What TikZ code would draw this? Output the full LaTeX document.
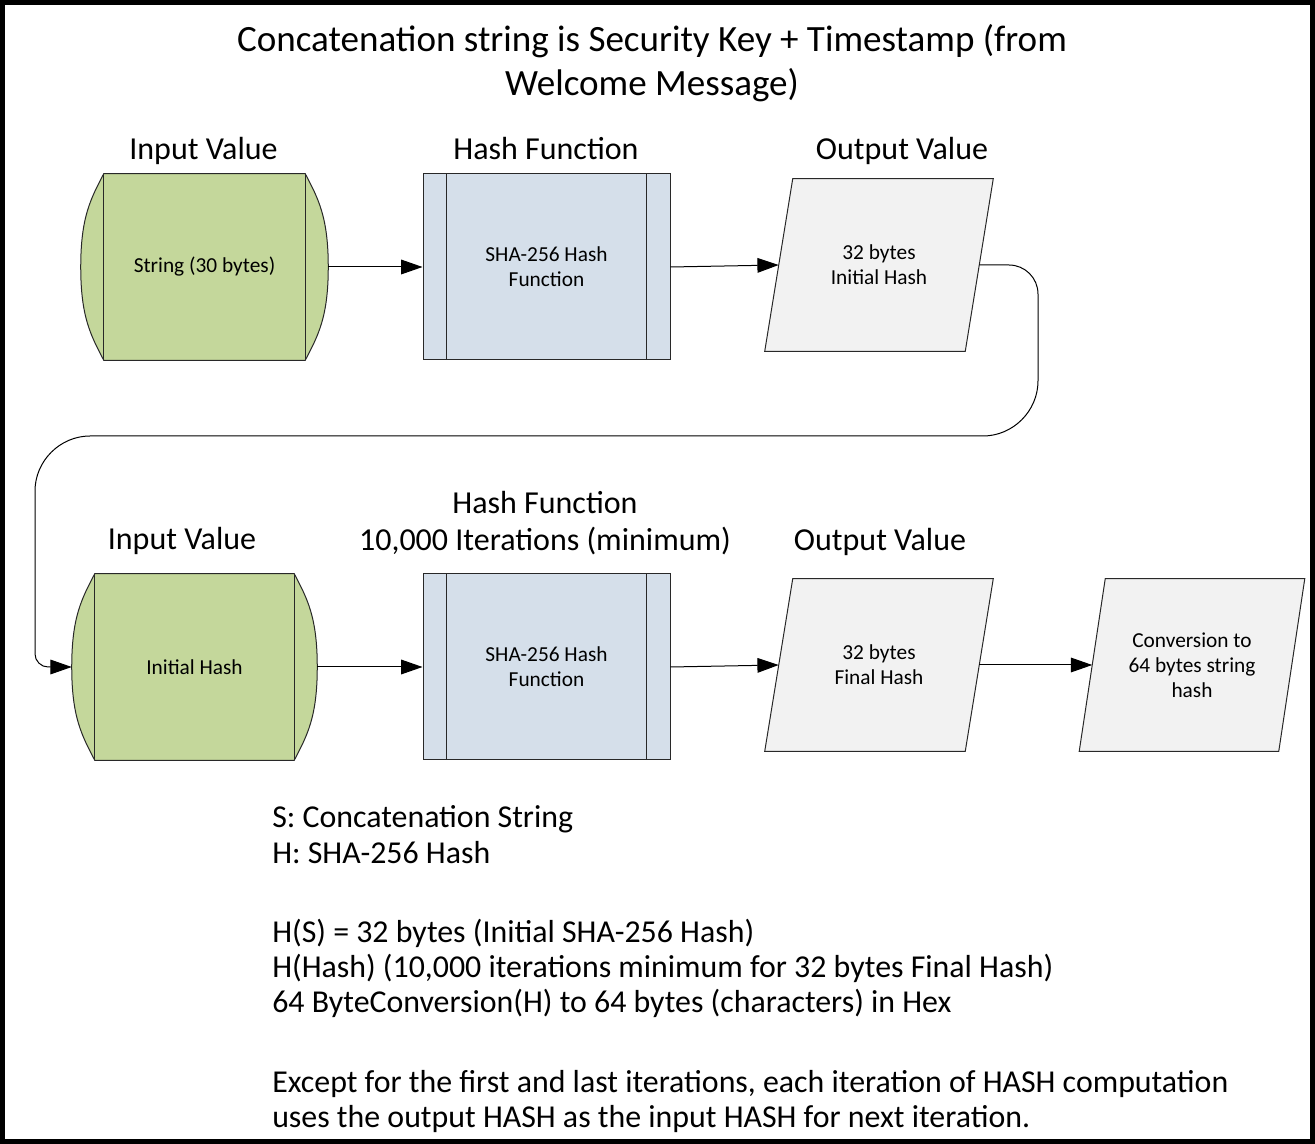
\documentclass[tikz,border=0pt]{standalone}
\usepackage{fontspec}
\setmainfont{Carlito}
\usetikzlibrary{arrows.meta,calc,backgrounds}
\definecolor{ingreen}{RGB}{196,215,155}
\definecolor{hashblue}{RGB}{213,223,234}
\definecolor{outgray}{RGB}{242,242,242}
\definecolor{edgecol}{RGB}{40,40,40}
\begin{document}
\begin{tikzpicture}[x=0.75pt,y=-0.75pt,
  lbl/.style={font=\fontsize{24}{28}\selectfont, inner sep=0pt, anchor=base},
  ttl/.style={font=\fontsize{27.8}{32}\selectfont, inner sep=0pt, anchor=base},
  note/.style={font=\fontsize{23.9}{28}\selectfont, inner sep=0pt, anchor=base west},
  boxtxt/.style={font=\fontsize{16}{18.75}\selectfont, align=center, text=black},
  inshape/.style={minimum width=185.25pt, minimum height=139.5pt, inner sep=0pt, boxtxt},
  hashbox/.style={draw=edgecol, line width=0.75pt, fill=hashblue, minimum width=185.25pt, minimum height=139.5pt, inner sep=0pt, boxtxt},
  outshape/.style={minimum width=150pt, minimum height=129pt, inner sep=0pt, boxtxt},
  shapeline/.style={draw=edgecol, line width=0.75pt},
  conn/.style={draw=black, line width=0.75pt, -{Triangle[length=16pt,width=11pt]}},
  frameline/.style={line width=3.75pt, draw=black}
]
\useasboundingbox (0,0) rectangle (1315,1144);

% title
\node[ttl] (t1) at (652,52) {Concatenation string is Security Key + Timestamp (from};
\node[ttl] (t2) at (652,96) {Welcome Message)};

% top row labels
\node[lbl] (lin1) at (203.5,160) {Input Value};
\node[lbl] (lh1) at (546,160) {Hash Function};
\node[lbl] (lout1) at (902,160) {Output Value};

% bottom row labels
\node[lbl] (lh2a) at (545,514) {Hash Function};
\node[lbl] (lh2b) at (545,551) {10,000 Iterations (minimum)};
\node[lbl] (lin2) at (182,550) {Input Value};
\node[lbl] (lout2) at (880,551) {Output Value};

% top row shapes
\node[inshape] (in1) at (204.5,267) {String (30 bytes)};
\node[hashbox] (h1) at (546.5,267) {SHA-256 Hash\\Function};
\node[outshape] (p1) at (879,265) {32 bytes\\Initial Hash};

% bottom row shapes
\node[inshape, minimum width=183.75pt] (in2) at (194.5,667) {Initial Hash};
\node[hashbox] (h2) at (546.5,667) {SHA-256 Hash\\Function};
\node[outshape] (p2) at (879,665) {32 bytes\\Final Hash};
\node[outshape, minimum width=149.25pt] (p3) at (1192,665) {Conversion to\\64 bytes string\\hash};

\begin{scope}[on background layer]
  % input shapes (flat-topped with bulging sides)
  \foreach \n in {in1,in2}{
    \path[shapeline, fill=ingreen]
      ($(\n.north west)+(23,0)$) -- ($(\n.north east)+(-23,0)$)
      .. controls ($(\n.north east)+(-10,25)$) and ($(\n.east)+(0,-50)$) .. (\n.east)
      .. controls ($(\n.east)+(0,50)$) and ($(\n.south east)+(-10,-25)$) .. ($(\n.south east)+(-23,0)$)
      -- ($(\n.south west)+(23,0)$)
      .. controls ($(\n.south west)+(10,-25)$) and ($(\n.west)+(0,50)$) .. (\n.west)
      .. controls ($(\n.west)+(0,-50)$) and ($(\n.north west)+(10,25)$) .. ($(\n.north west)+(23,0)$)
      -- cycle;
    \draw[shapeline] ($(\n.north west)+(23,0)$) -- ($(\n.south west)+(23,0)$);
    \draw[shapeline] ($(\n.north east)+(-23,0)$) -- ($(\n.south east)+(-23,0)$);
  }
  % output parallelograms
  \foreach \n/\s in {p1/14,p2/14,p3/13}{
    \path[shapeline, fill=outgray]
      ($(\n.south west)+(-\s,0)$) -- ($(\n.south east)+(-\s,0)$)
      -- ($(\n.north east)+(\s,0)$) -- ($(\n.north west)+(\s,0)$) -- cycle;
  }
\end{scope}

% inner lines of hash boxes
\foreach \n in {h1,h2}{
  \draw[shapeline] ($(\n.north west)+(24,0)$) -- ($(\n.south west)+(24,0)$);
  \draw[shapeline] ($(\n.north east)+(-24,0)$) -- ($(\n.south east)+(-24,0)$);
}

% connectors
\draw[conn] (in1.east) -- (h1.west);
\draw[conn] (h1.east) -- (p1.west);
\draw[conn] (p1.east) -- (1009,265) .. controls (1025,265) and (1038,278) .. (1038,294)
  -- (1038,381) .. controls (1038,411) and (1013,436) .. (983,436)
  -- (90,436) .. controls (60,436) and (35,461) .. (35,491)
  -- (35,654) .. controls (35,661) and (41,667) .. (48,667) -- (in2.west);
\draw[conn] (in2.east) -- (h2.west);
\draw[conn] (h2.east) -- (p2.west);
\draw[conn] (p2.east) -- (p3.west);

% notes
\node[note] (n1) at (272,827) {S: Concatenation String};
\node[note] (n2) at (272,863) {H: SHA-256 Hash};
\node[note] (n3) at (272,942) {H(S) = 32 bytes (Initial SHA-256 Hash)};
\node[note] (n4) at (272,977) {H(Hash) (10,000 iterations minimum for 32 bytes Final Hash)};
\node[note] (n5) at (272,1012) {64 ByteConversion(H) to 64 bytes (characters) in Hex};
\node[note] (n6) at (272,1092) {Except for the first and last iterations, each iteration of HASH computation};
\node[note] (n7) at (272,1127) {uses the output HASH as the input HASH for next iteration.};

% frame
\draw[frameline] (2.5,2.5) rectangle (1312.5,1141.5);
\end{tikzpicture}
\end{document}
